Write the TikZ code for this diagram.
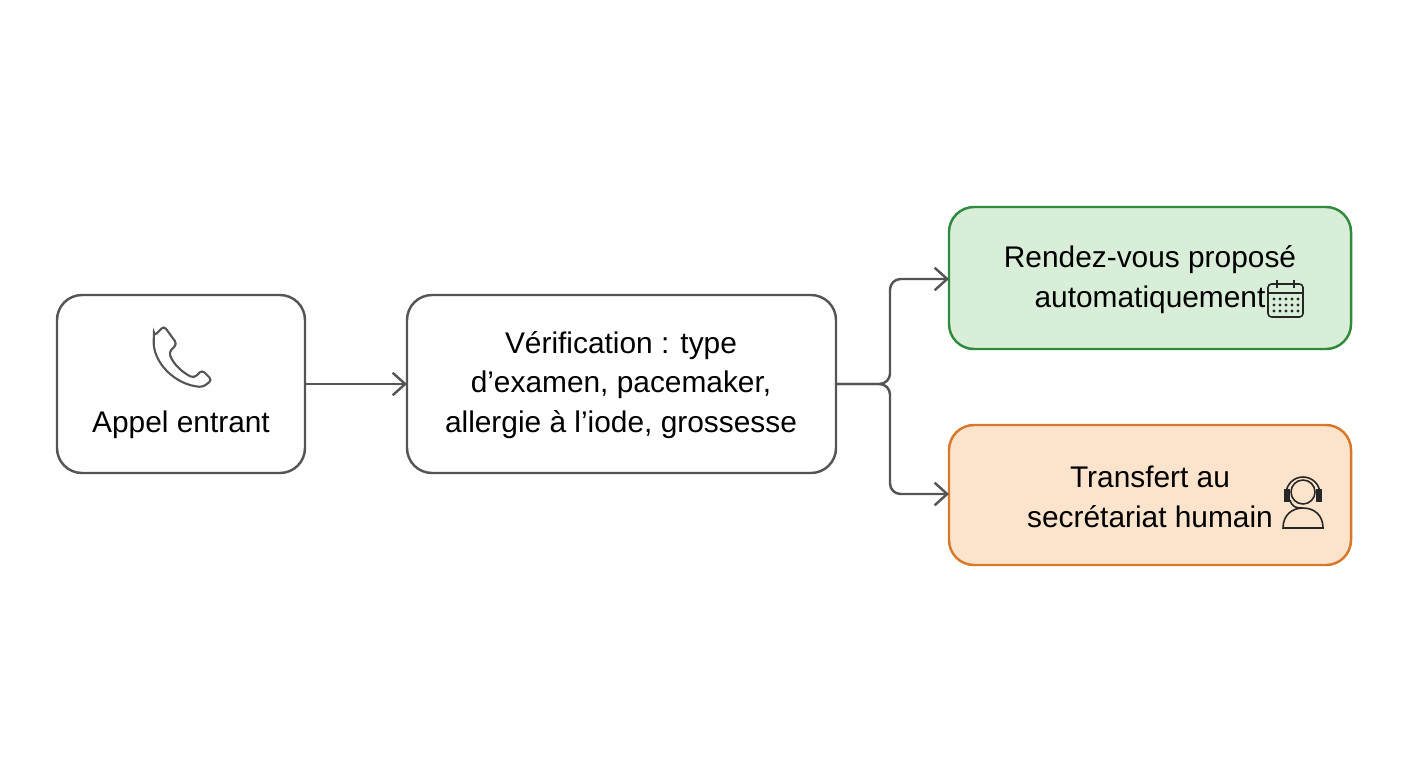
\documentclass[tikz,border=0pt]{standalone}
\usepackage{fontspec}
\setmainfont{Liberation Sans}
\usetikzlibrary{positioning,arrows.meta}
\definecolor{linegray}{HTML}{555555}
\definecolor{okgreen}{HTML}{2F8A3C}
\definecolor{okfill}{HTML}{D9EED8}
\definecolor{todoorange}{HTML}{D8782B}
\definecolor{todofill}{HTML}{FCE3CB}
\begin{document}
\begin{tikzpicture}[x=0.02cm, y=-0.02cm,
	box/.style={draw=linegray, line width=1.4pt, rounded corners=0.5cm, fill=white},
	txt/.style={font=\fontsize{17}{22.7}\selectfont, align=center, text=black},
	flow/.style={draw=linegray, line width=1.4pt, -{Straight Barb[length=2.5mm,width=4.5mm]}},
	icon/.style={line width=0.9pt, draw=black!85}]
	\useasboundingbox (0,0) rectangle (1408,768);
	% boxes
	\draw[box] (57,295) rectangle (305,473);
	\draw[box] (407,295) rectangle (836,473);
	\draw[box, draw=okgreen, fill=okfill] (949,207) rectangle (1351,349);
	\draw[box, draw=todoorange, fill=todofill] (949,425) rectangle (1351,565);
	\coordinate (appelE) at (305,384);
	\coordinate (verifW) at (407,384);
	\coordinate (verifE) at (836,384);
	\coordinate (rdvW) at (949,279);
	\coordinate (transW) at (949,494);
	% texts
	\node[txt] (appel) at (181,425) {Appel entrant};
	\node[txt] (verif) at (621,385) {Vérification : type\\d’examen, pacemaker,\\allergie à l’iode, grossesse};
	\node[txt] (rdv) at (1150,280) {Rendez-vous proposé\\automatiquement\hspace{1.3cm}};
	\node[txt] (trans) at (1150,497) {Transfert au\\secrétariat humain\hspace{1.3cm}};
	% connectors
	\draw[flow] (appelE) -- (verifW);
	\draw[flow, rounded corners=6pt] (verifE) -- (890,384) -- (890,279) -- (rdvW);
	\draw[flow, rounded corners=6pt] (verifE) -- (890,384) -- (890,494) -- (transW);
	% phone icon
	\draw[icon, line width=1.2pt, linegray, rounded corners=2pt]
		(154,336) -- (164,326) -- (177,344) -- (169,352)
		.. controls (173,364) and (183,373) .. (194,378)
		-- (202,370) -- (212,380) -- (203,387)
		.. controls (175,385) and (152,362) .. (154,336) -- cycle;
	% calendar icon
	\draw[icon, rounded corners=2pt] (1268,284) rectangle (1303,317);
	\draw[icon] (1268,293) -- (1303,293);
	\draw[icon] (1277,280) -- (1277,288) (1294,280) -- (1294,288);
	\foreach \cx in {1274,1280,1286,1292,1298}
		\foreach \cy in {299,305,311}
			\fill[black!85] (\cx,\cy) circle (0.9pt);
	% headset icon
	\draw[icon] (1303,492) circle (12);
	\draw[icon] (1286,494) arc (180:360:17);
	\draw[icon, fill=black!85] (1285,490) rectangle (1289,501);
	\draw[icon, fill=black!85] (1317,490) rectangle (1321,501);
	\draw[icon] (1290,500) .. controls (1292,507) and (1296,508) .. (1302,508);
	\draw[icon] (1283,528) .. controls (1283,515) and (1292,508) .. (1303,508)
		.. controls (1314,508) and (1323,515) .. (1323,528) -- cycle;
\end{tikzpicture}
\end{document}
